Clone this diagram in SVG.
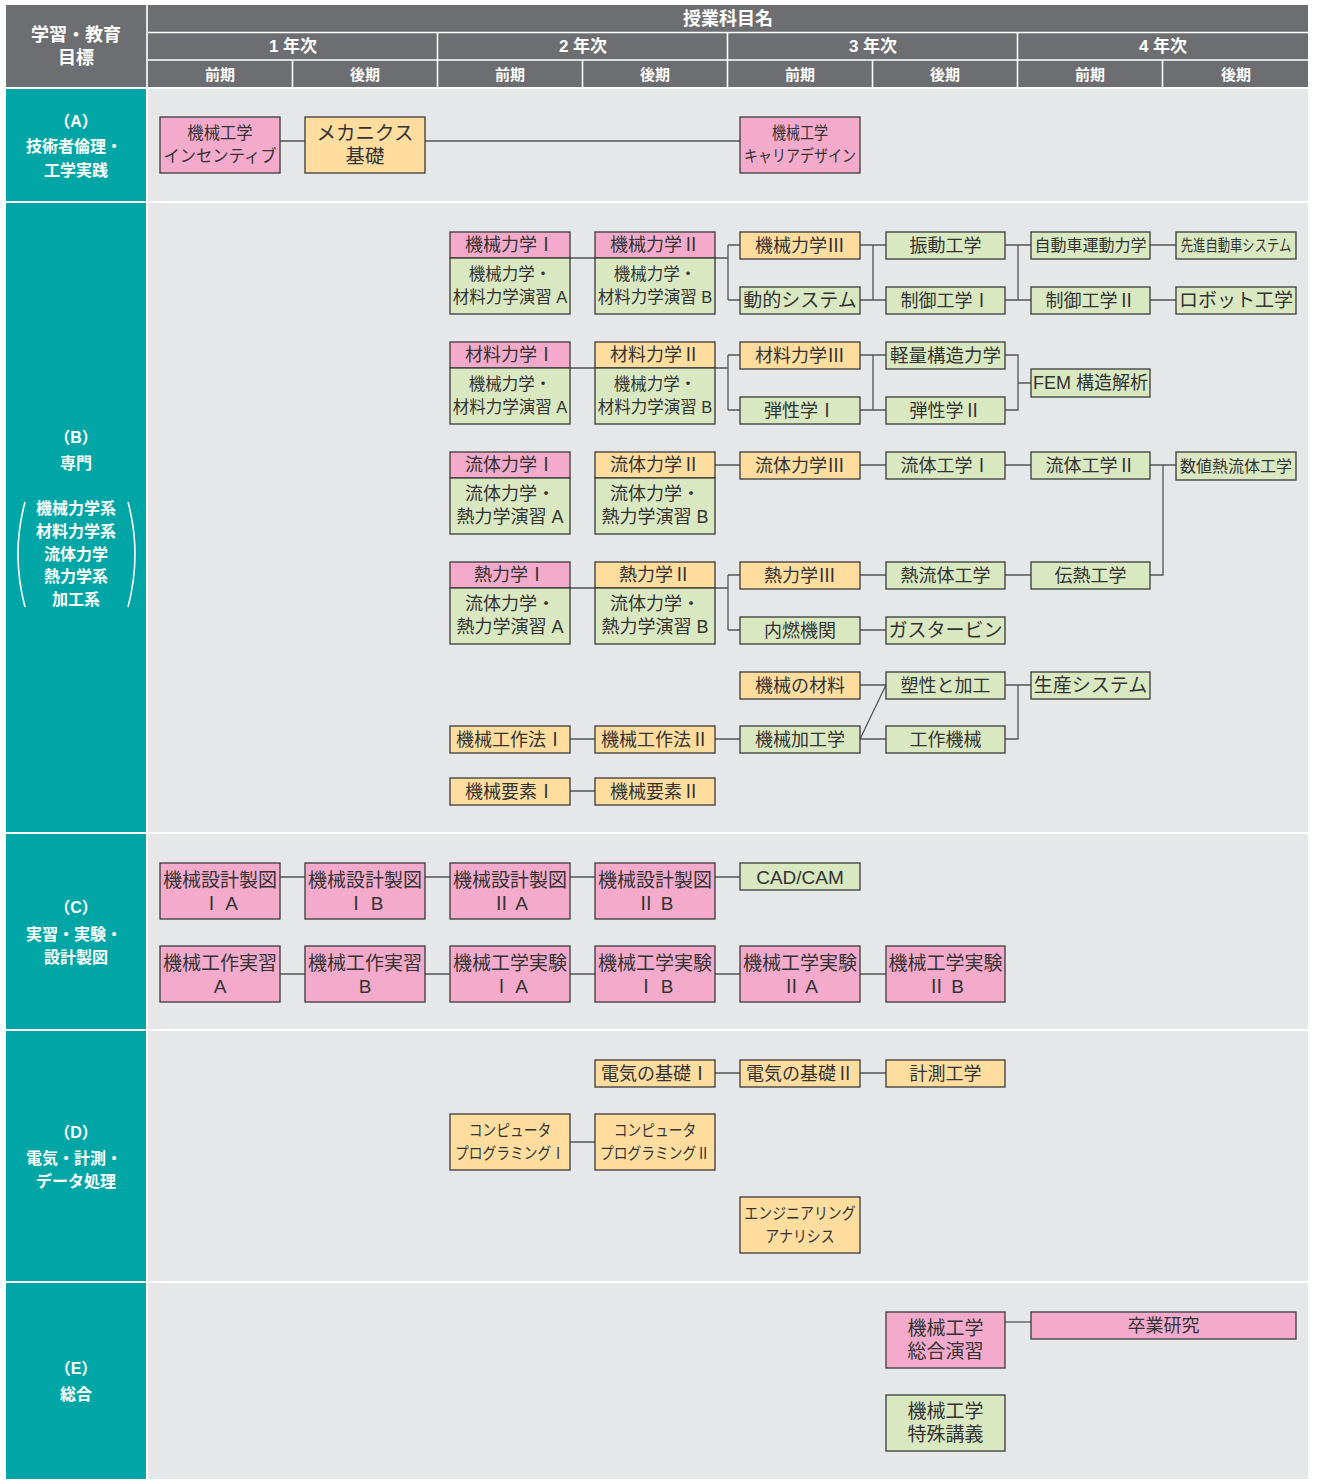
<svg xmlns="http://www.w3.org/2000/svg" width="1318" height="1483" viewBox="0 0 1318 1483">
<style>
.hd{fill:#6d6e71}
.tl{fill:#00a6a6}
.bg{fill:#e6e7e8}
.wl{stroke:#ffffff;stroke-width:1.6;fill:none}
.ht{font-family:"Liberation Sans","Noto Sans CJK JP",sans-serif;font-weight:bold;fill:#ffffff;text-anchor:middle;dominant-baseline:central}
.lt{font-family:"Liberation Sans","Noto Sans CJK JP",sans-serif;font-weight:bold;fill:#ffffff;text-anchor:middle;dominant-baseline:central;font-size:16px}
.p{fill:#f4abcb;stroke:#3a3a3a;stroke-width:1.3}
.o{fill:#fedd9f;stroke:#3a3a3a;stroke-width:1.3}
.g{fill:#d9e8c1;stroke:#3a3a3a;stroke-width:1.3}
.t{font-family:"Liberation Sans","Noto Sans CJK JP",sans-serif;fill:#333333;text-anchor:middle;dominant-baseline:central;font-size:18px}
.s{font-size:16.5px}
.b{font-size:19px}
.m{font-size:16px}
.n{font-size:14.5px}
.c{stroke:#555555;stroke-width:1.3;fill:none}
</style>

<g id="frame">
<rect class="hd" x="6" y="5" width="1302" height="82"/>
<path class="wl" d="M148 32.5H1308M148 60H1308M147 5V87M437.5 32.5V87M727.5 32.5V87M1017.5 32.5V87M292.5 60V87M582.5 60V87M872.5 60V87M1162.5 60V87"/>
<text class="ht" x="76" y="35" font-size="18"><tspan x="76">学習・教育</tspan><tspan x="76" dy="23">目標</tspan></text>
<text class="ht" x="728" y="19" font-size="18">授業科目名</text>
<text class="ht" x="293" y="46" font-size="17">1 年次</text>
<text class="ht" x="583" y="46" font-size="17">2 年次</text>
<text class="ht" x="873" y="46" font-size="17">3 年次</text>
<text class="ht" x="1163" y="46" font-size="17">4 年次</text>
<text class="ht" x="220" y="74" font-size="15">前期</text>
<text class="ht" x="365" y="74" font-size="15">後期</text>
<text class="ht" x="510" y="74" font-size="15">前期</text>
<text class="ht" x="655" y="74" font-size="15">後期</text>
<text class="ht" x="800" y="74" font-size="15">前期</text>
<text class="ht" x="945" y="74" font-size="15">後期</text>
<text class="ht" x="1090" y="74" font-size="15">前期</text>
<text class="ht" x="1236" y="74" font-size="15">後期</text>

<rect class="tl" x="6" y="89" width="140" height="112"/>
<rect class="bg" x="148" y="89" width="1160" height="112"/>
<rect class="tl" x="6" y="203" width="140" height="629"/>
<rect class="bg" x="148" y="203" width="1160" height="629"/>
<rect class="tl" x="6" y="834" width="140" height="195"/>
<rect class="bg" x="148" y="834" width="1160" height="195"/>
<rect class="tl" x="6" y="1031" width="140" height="250"/>
<rect class="bg" x="148" y="1031" width="1160" height="250"/>
<rect class="tl" x="6" y="1283" width="140" height="196"/>
<rect class="bg" x="148" y="1283" width="1160" height="196"/>

<text class="lt" x="76" y="121"><tspan x="76">（A）</tspan><tspan x="74" dy="25">技術者倫理・</tspan><tspan x="76" dy="24">工学実践</tspan></text>

<text class="lt" x="76" y="437"><tspan x="76">（B）</tspan><tspan x="76" dy="26">専門</tspan></text>
<path d="M25 502Q11 554 25 607M128 502Q142 554 128 607" stroke="#ffffff" stroke-width="1.6" fill="none"/>
<text class="lt" x="76" y="508"><tspan x="76">機械力学系</tspan><tspan x="76" dy="22.75">材料力学系</tspan><tspan x="76" dy="22.75">流体力学</tspan><tspan x="76" dy="22.75">熱力学系</tspan><tspan x="76" dy="22.75">加工系</tspan></text>

<text class="lt" x="76" y="907"><tspan x="76">（C）</tspan><tspan x="74" dy="27">実習・実験・</tspan><tspan x="76" dy="23">設計製図</tspan></text>

<text class="lt" x="76" y="1132"><tspan x="76">（D）</tspan><tspan x="74" dy="26">電気・計測・</tspan><tspan x="76" dy="23">データ処理</tspan></text>

<text class="lt" x="76" y="1368"><tspan x="76">（E）</tspan><tspan x="76" dy="26">総合</tspan></text>
</g>

<g id="connectors">
<path class="c" d="M280 141H305M425 141H740"/>
<path class="c" d="M570 258H595M715 258H728M728 245V300M728 245H740M728 300H740M860 245H886M860 300H886M873 245V300M1005 245H1031M1005 300H1031M1018 245V300M1150 245H1176M1150 300H1176"/>
<path class="c" d="M570 368H595M715 368H728M728 355V410M728 355H740M728 410H740M860 355H886M860 410H886M873 355V410M1005 355H1018V410H1005M1018 383H1031"/>
<path class="c" d="M715 465H740M860 465H886M1005 465H1031M1150 465H1176M1163 465V575H1150"/>
<path class="c" d="M570 588H595M715 588H728M728 575V630M728 575H740M728 630H740M860 575H886M860 630H886M1005 575H1031"/>
<path class="c" d="M860 685H886M860 739L886 685M860 739H886M1005 685H1031M1005 739H1018V685M570 739H595M715 739H740M570 791H595"/>
<path class="c" d="M280 877H305M425 877H450M570 877H595M715 877H740"/>
<path class="c" d="M280 974H305M425 974H450M570 974H595M715 974H740M860 974H886"/>
<path class="c" d="M715 1073H740M860 1073H886M570 1142H595"/>
<path class="c" d="M1005 1322H1031"/>
</g>

<g id="n-kikai-incentive"><rect class="p" x="160" y="117" width="120" height="56"/><text class="t" transform="translate(220 0) scale(0.96 1)" x="0" y="133" style="font-size:17px"><tspan x="0">機械工学</tspan><tspan x="0" dy="23">インセンティブ</tspan></text></g>
<g id="n-mechanics-kiso"><rect class="o" x="305" y="117" width="120" height="56"/><text class="t" x="365" y="133" style="font-size:19.5px"><tspan x="365">メカニクス</tspan><tspan x="365" dy="23">基礎</tspan></text></g>
<g id="n-career"><rect class="p" x="740" y="117" width="120" height="56"/><text class="t" transform="translate(800 0) scale(0.85 1)" x="0" y="133" style="font-size:16.5px"><tspan x="0">機械工学</tspan><tspan x="0" dy="23">キャリアデザイン</tspan></text></g>

<g id="n-kikairikigaku1"><rect class="p" x="450" y="232" width="120" height="26"/><rect class="g" x="450" y="258" width="120" height="56"/><text class="t" x="510" y="245">機械力学Ⅰ</text><text class="t s" x="510" y="274"><tspan x="510">機械力学・</tspan><tspan x="510" dy="23">材料力学演習 A</tspan></text></g>
<g id="n-kikairikigaku2"><rect class="p" x="595" y="232" width="120" height="26"/><rect class="g" x="595" y="258" width="120" height="56"/><text class="t" x="655" y="245">機械力学Ⅱ</text><text class="t s" x="655" y="274"><tspan x="655">機械力学・</tspan><tspan x="655" dy="23">材料力学演習 B</tspan></text></g>
<g id="n-kikairikigaku3"><rect class="o" x="740" y="232" width="120" height="27"/><text class="t" x="800" y="245.5">機械力学Ⅲ</text></g>
<g id="n-douteki"><rect class="g" x="740" y="287" width="120" height="27"/><text class="t b" x="800" y="300.5">動的システム</text></g>
<g id="n-shindou"><rect class="g" x="886" y="232" width="119" height="27"/><text class="t" x="945.5" y="245.5">振動工学</text></g>
<g id="n-seigyo1"><rect class="g" x="886" y="287" width="119" height="27"/><text class="t" x="945.5" y="300.5">制御工学Ⅰ</text></g>
<g id="n-jidousha"><rect class="g" x="1031" y="232" width="119" height="27"/><text class="t m" x="1090.5" y="245.5">自動車運動力学</text></g>
<g id="n-seigyo2"><rect class="g" x="1031" y="287" width="119" height="27"/><text class="t" x="1090.5" y="300.5">制御工学Ⅱ</text></g>
<g id="n-senshin"><rect class="g" x="1176" y="232" width="120" height="27"/><text class="t m" transform="translate(1236 245.5) scale(0.77 1)" x="0" y="0">先進自動車システム</text></g>
<g id="n-robot"><rect class="g" x="1176" y="287" width="120" height="27"/><text class="t b" x="1236" y="300.5">ロボット工学</text></g>

<g id="n-zairyou1"><rect class="p" x="450" y="342" width="120" height="26"/><rect class="g" x="450" y="368" width="120" height="56"/><text class="t" x="510" y="355">材料力学Ⅰ</text><text class="t s" x="510" y="384"><tspan x="510">機械力学・</tspan><tspan x="510" dy="23">材料力学演習 A</tspan></text></g>
<g id="n-zairyou2"><rect class="o" x="595" y="342" width="120" height="26"/><rect class="g" x="595" y="368" width="120" height="56"/><text class="t" x="655" y="355">材料力学Ⅱ</text><text class="t s" x="655" y="384"><tspan x="655">機械力学・</tspan><tspan x="655" dy="23">材料力学演習 B</tspan></text></g>
<g id="n-zairyou3"><rect class="o" x="740" y="342" width="120" height="27"/><text class="t" x="800" y="355.5">材料力学Ⅲ</text></g>
<g id="n-dansei1"><rect class="g" x="740" y="397" width="120" height="27"/><text class="t" x="800" y="410.5">弾性学Ⅰ</text></g>
<g id="n-keiryou"><rect class="g" x="886" y="342" width="119" height="27"/><text class="t" x="945.5" y="355.5" style="font-size:18.5px">軽量構造力学</text></g>
<g id="n-dansei2"><rect class="g" x="886" y="397" width="119" height="27"/><text class="t" x="945.5" y="410.5">弾性学Ⅱ</text></g>
<g id="n-fem"><rect class="g" x="1031" y="369" width="119" height="28"/><text class="t" x="1090.5" y="383">FEM 構造解析</text></g>

<g id="n-ryuutai1"><rect class="p" x="450" y="452" width="120" height="26"/><rect class="g" x="450" y="478" width="120" height="56"/><text class="t" x="510" y="465">流体力学Ⅰ</text><text class="t" x="510" y="494"><tspan x="510">流体力学・</tspan><tspan x="510" dy="23">熱力学演習 A</tspan></text></g>
<g id="n-ryuutai2"><rect class="o" x="595" y="452" width="120" height="26"/><rect class="g" x="595" y="478" width="120" height="56"/><text class="t" x="655" y="465">流体力学Ⅱ</text><text class="t" x="655" y="494"><tspan x="655">流体力学・</tspan><tspan x="655" dy="23">熱力学演習 B</tspan></text></g>
<g id="n-ryuutai3"><rect class="o" x="740" y="452" width="120" height="27"/><text class="t" x="800" y="465.5">流体力学Ⅲ</text></g>
<g id="n-ryuutaikou1"><rect class="g" x="886" y="452" width="119" height="27"/><text class="t" x="945.5" y="465.5">流体工学Ⅰ</text></g>
<g id="n-ryuutaikou2"><rect class="g" x="1031" y="452" width="119" height="27"/><text class="t" x="1090.5" y="465.5">流体工学Ⅱ</text></g>
<g id="n-suuchi"><rect class="g" x="1176" y="452" width="120" height="28"/><text class="t m" x="1236" y="466">数値熱流体工学</text></g>

<g id="n-netsu1"><rect class="p" x="450" y="562" width="120" height="26"/><rect class="g" x="450" y="588" width="120" height="56"/><text class="t" x="510" y="575">熱力学Ⅰ</text><text class="t" x="510" y="604"><tspan x="510">流体力学・</tspan><tspan x="510" dy="23">熱力学演習 A</tspan></text></g>
<g id="n-netsu2"><rect class="o" x="595" y="562" width="120" height="26"/><rect class="g" x="595" y="588" width="120" height="56"/><text class="t" x="655" y="575">熱力学Ⅱ</text><text class="t" x="655" y="604"><tspan x="655">流体力学・</tspan><tspan x="655" dy="23">熱力学演習 B</tspan></text></g>
<g id="n-netsu3"><rect class="o" x="740" y="562" width="120" height="27"/><text class="t" x="800" y="575.5">熱力学Ⅲ</text></g>
<g id="n-nainen"><rect class="g" x="740" y="617" width="120" height="27"/><text class="t" x="800" y="630.5">内燃機関</text></g>
<g id="n-netsuryuutai"><rect class="g" x="886" y="562" width="119" height="27"/><text class="t" x="945.5" y="575.5">熱流体工学</text></g>
<g id="n-gasturbine"><rect class="g" x="886" y="617" width="119" height="27"/><text class="t b" x="945.5" y="630.5">ガスタービン</text></g>
<g id="n-dennetsu"><rect class="g" x="1031" y="562" width="119" height="27"/><text class="t" x="1090.5" y="575.5">伝熱工学</text></g>

<g id="n-kikainozairyou"><rect class="o" x="740" y="672" width="120" height="27"/><text class="t" x="800" y="685.5">機械の材料</text></g>
<g id="n-sosei"><rect class="g" x="886" y="672" width="119" height="27"/><text class="t" x="945.5" y="685.5">塑性と加工</text></g>
<g id="n-seisan"><rect class="g" x="1031" y="672" width="119" height="27"/><text class="t b" x="1090.5" y="685.5">生産システム</text></g>
<g id="n-kousakuhou1"><rect class="o" x="450" y="726" width="120" height="27"/><text class="t" x="510" y="739.5">機械工作法Ⅰ</text></g>
<g id="n-kousakuhou2"><rect class="o" x="595" y="726" width="120" height="27"/><text class="t" x="655" y="739.5">機械工作法Ⅱ</text></g>
<g id="n-kikaikakou"><rect class="g" x="740" y="726" width="120" height="27"/><text class="t" x="800" y="739.5">機械加工学</text></g>
<g id="n-kousakukikai"><rect class="g" x="886" y="726" width="119" height="27"/><text class="t" x="945.5" y="739.5">工作機械</text></g>
<g id="n-youso1"><rect class="o" x="450" y="778" width="120" height="27"/><text class="t" x="510" y="791.5">機械要素Ⅰ</text></g>
<g id="n-youso2"><rect class="o" x="595" y="778" width="120" height="27"/><text class="t" x="655" y="791.5">機械要素Ⅱ</text></g>

<g id="n-seizu1a"><rect class="p" x="160" y="863" width="120" height="56"/><text class="t b" x="220" y="880"><tspan x="220">機械設計製図</tspan><tspan x="220" dy="23">Ⅰ A</tspan></text></g>
<g id="n-seizu1b"><rect class="p" x="305" y="863" width="120" height="56"/><text class="t b" x="365" y="880"><tspan x="365">機械設計製図</tspan><tspan x="365" dy="23">Ⅰ B</tspan></text></g>
<g id="n-seizu2a"><rect class="p" x="450" y="863" width="120" height="56"/><text class="t b" x="510" y="880"><tspan x="510">機械設計製図</tspan><tspan x="510" dy="23">Ⅱ A</tspan></text></g>
<g id="n-seizu2b"><rect class="p" x="595" y="863" width="120" height="56"/><text class="t b" x="655" y="880"><tspan x="655">機械設計製図</tspan><tspan x="655" dy="23">Ⅱ B</tspan></text></g>
<g id="n-cadcam"><rect class="g" x="740" y="863" width="120" height="27"/><text class="t b" x="800" y="877">CAD/CAM</text></g>
<g id="n-jisshuu-a"><rect class="p" x="160" y="946" width="120" height="56"/><text class="t b" x="220" y="963"><tspan x="220">機械工作実習</tspan><tspan x="220" dy="23">A</tspan></text></g>
<g id="n-jisshuu-b"><rect class="p" x="305" y="946" width="120" height="56"/><text class="t b" x="365" y="963"><tspan x="365">機械工作実習</tspan><tspan x="365" dy="23">B</tspan></text></g>
<g id="n-jikken1a"><rect class="p" x="450" y="946" width="120" height="56"/><text class="t b" x="510" y="963"><tspan x="510">機械工学実験</tspan><tspan x="510" dy="23">Ⅰ A</tspan></text></g>
<g id="n-jikken1b"><rect class="p" x="595" y="946" width="120" height="56"/><text class="t b" x="655" y="963"><tspan x="655">機械工学実験</tspan><tspan x="655" dy="23">Ⅰ B</tspan></text></g>
<g id="n-jikken2a"><rect class="p" x="740" y="946" width="120" height="56"/><text class="t b" x="800" y="963"><tspan x="800">機械工学実験</tspan><tspan x="800" dy="23">Ⅱ A</tspan></text></g>
<g id="n-jikken2b"><rect class="p" x="886" y="946" width="119" height="56"/><text class="t b" x="945.5" y="963"><tspan x="945.5">機械工学実験</tspan><tspan x="945.5" dy="23">Ⅱ B</tspan></text></g>

<g id="n-denki1"><rect class="o" x="595" y="1060" width="120" height="27"/><text class="t" x="655" y="1073.5">電気の基礎Ⅰ</text></g>
<g id="n-denki2"><rect class="o" x="740" y="1060" width="120" height="27"/><text class="t" x="800" y="1073.5">電気の基礎Ⅱ</text></g>
<g id="n-keisoku"><rect class="o" x="886" y="1060" width="119" height="27"/><text class="t" x="945.5" y="1073.5">計測工学</text></g>
<g id="n-prog1"><rect class="o" x="450" y="1114" width="120" height="56"/><text class="t" transform="translate(510 0) scale(0.86 1)" x="0" y="1130" style="font-size:16px"><tspan x="0">コンピュータ</tspan><tspan x="0" dy="23">プログラミングⅠ</tspan></text></g>
<g id="n-prog2"><rect class="o" x="595" y="1114" width="120" height="56"/><text class="t" transform="translate(655 0) scale(0.86 1)" x="0" y="1130" style="font-size:16px"><tspan x="0">コンピュータ</tspan><tspan x="0" dy="23">プログラミングⅡ</tspan></text></g>
<g id="n-engineering"><rect class="o" x="740" y="1197" width="120" height="56"/><text class="t" transform="translate(800 0) scale(0.87 1)" x="0" y="1213" style="font-size:16px"><tspan x="0">エンジニアリング</tspan><tspan x="0" dy="23">アナリシス</tspan></text></g>

<g id="n-sougou"><rect class="p" x="886" y="1312" width="119" height="56"/><text class="t b" x="945.5" y="1328"><tspan x="945.5">機械工学</tspan><tspan x="945.5" dy="23">総合演習</tspan></text></g>
<g id="n-sotsuken"><rect class="p" x="1031" y="1312" width="265" height="27"/><text class="t" x="1163.5" y="1325.5">卒業研究</text></g>
<g id="n-tokushu"><rect class="g" x="886" y="1395" width="119" height="56"/><text class="t b" x="945.5" y="1411"><tspan x="945.5">機械工学</tspan><tspan x="945.5" dy="23">特殊講義</tspan></text></g>
</svg>
